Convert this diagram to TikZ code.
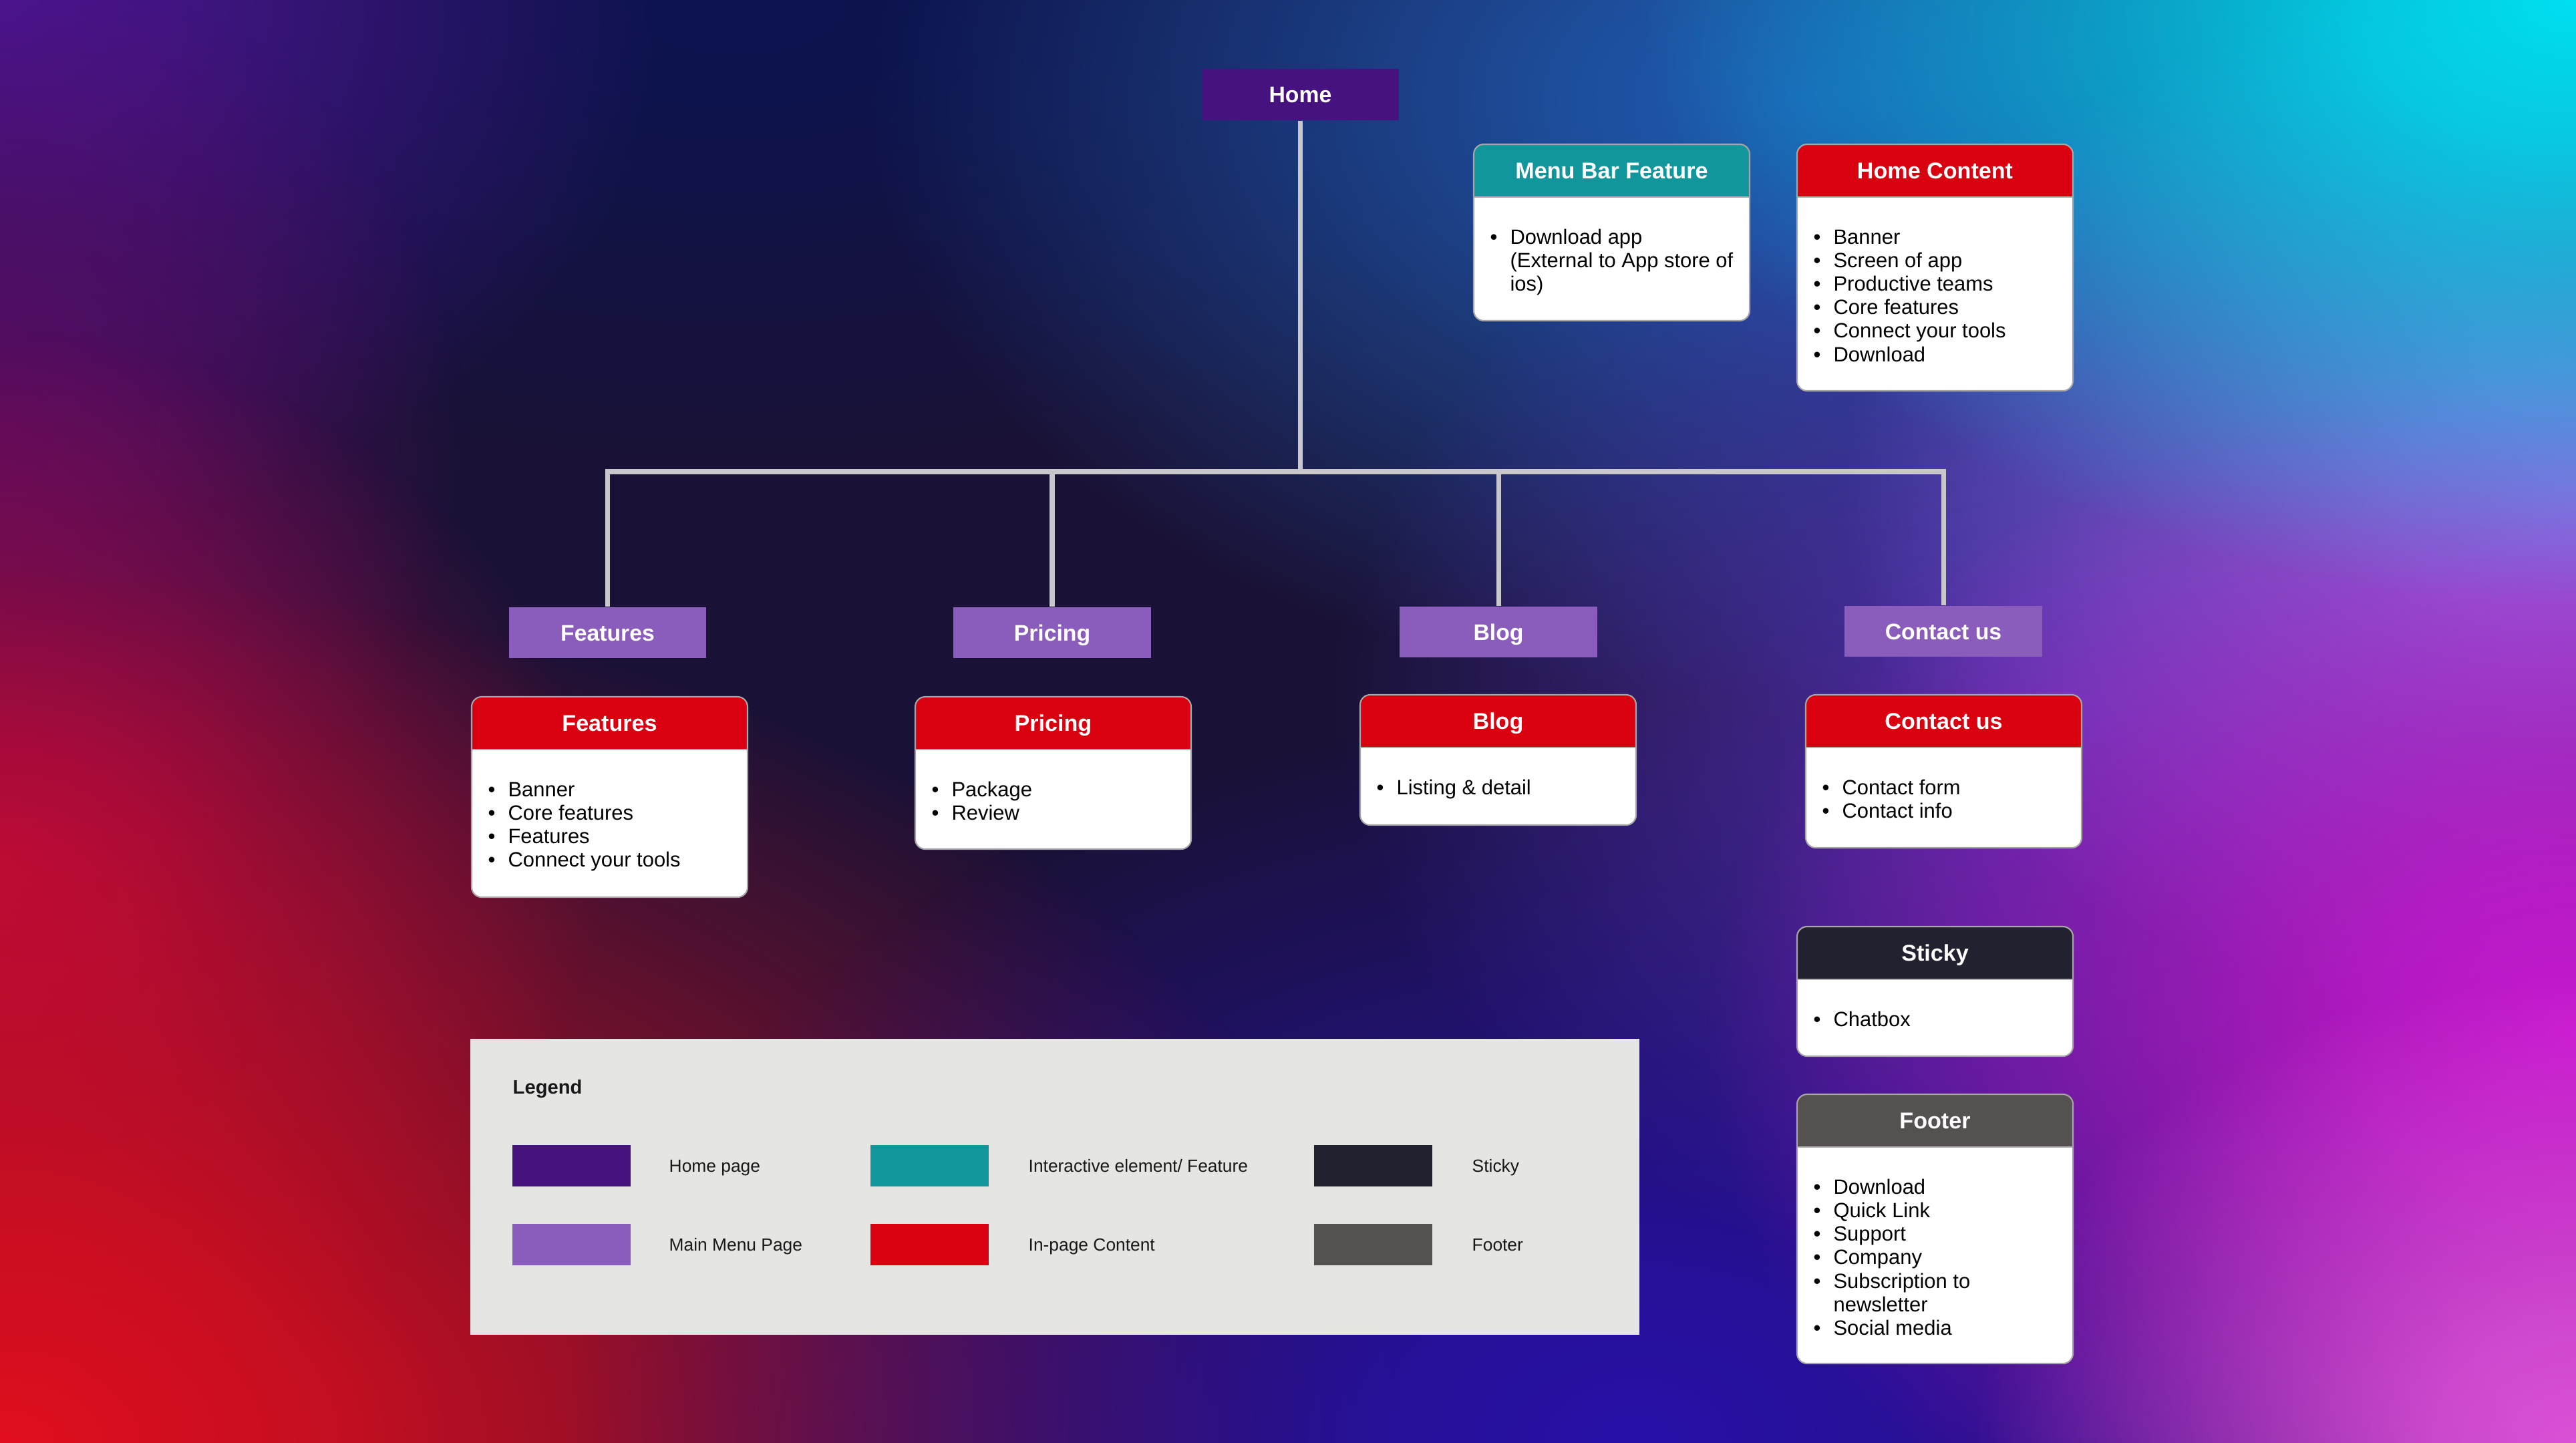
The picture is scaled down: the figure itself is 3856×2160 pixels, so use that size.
\documentclass[tikz,border=0pt]{standalone}
\usepackage{fontspec}
\setmainfont{Liberation Sans}
\usetikzlibrary{fadings,shadings}
\definecolor{homec}{HTML}{46127F}
\definecolor{menuc}{HTML}{8A5CBB}
\definecolor{tealc}{HTML}{11969C}
\definecolor{redc}{HTML}{D9000F}
\definecolor{stickyc}{HTML}{22212F}
\definecolor{footc}{HTML}{555150}
\definecolor{legbg}{HTML}{E5E5E3}
\definecolor{linec}{HTML}{C8C8CC}
\definecolor{bBase}{HTML}{1A1236}
\definecolor{bPurp}{HTML}{4A1590}
\definecolor{bPlum}{HTML}{5A0C62}
\definecolor{bNavy}{HTML}{0C1450}
\definecolor{bRed}{HTML}{E20E1E}
\definecolor{bCrim}{HTML}{A80A44}
\definecolor{bBlue}{HTML}{1F5AB0}
\definecolor{bCyan}{HTML}{00E0F2}
\definecolor{bLav}{HTML}{8A70E0}
\definecolor{bMag}{HTML}{C818D0}
\definecolor{bPink}{HTML}{E858E0}
\definecolor{bDeep}{HTML}{2810A8}
\definecolor{bViol}{HTML}{5A34C0}
\pgfdeclareradialshading{blobshade}{\pgfpointorigin}{color(0bp)=(white); color(6bp)=(white!85!black); color(25bp)=(black); color(50bp)=(black)}
\pgfdeclarefading{blobfade}{\pgfuseshading{blobshade}}
\newcommand\blob[6]{\fill[#1, path fading=blobfade, fill opacity=#6] (#2,#3) ellipse [x radius=#4cm, y radius=#5cm];}
\newcommand\bl{\makebox[8.5pt][l]{\textbullet}}
\newcommand\ind{\hspace*{8.5pt}}
\tikzset{
  conn/.style={draw=linec, line width=2pt},
  mainbox/.style={fill=menuc, text=white, font=\fontsize{9.6}{11}\selectfont\bfseries, minimum width=2.95cm, minimum height=0.76cm, inner sep=0pt, text height=7pt, text depth=0pt},
  homebox/.style={mainbox, fill=homec, minimum height=0.77cm},
  cardtitle/.style={text=white, font=\fontsize{9.7}{11}\selectfont\bfseries, inner sep=0pt, text height=7pt, text depth=0pt},
  cardlist/.style={anchor=north west, inner sep=0pt, font=\fontsize{8.8}{10}\selectfont, text=black},
  cardedge/.style={draw=black!35, line width=0.6pt},
  cardline/.style={draw=black!30, line width=0.6pt},
  swatch/.style={minimum width=1.77cm, minimum height=0.62cm, inner sep=0pt},
  leglabel/.style={anchor=west, inner sep=0pt, font=\fontsize{7.5}{9}\selectfont, text=black!90, text height=5.4pt, text depth=0pt},
}
\newcommand\sitecard[7]{%
  \fill[white, rounded corners=0.15cm] (#2,#3) rectangle (#2+413,#6);
  \fill[#4, rounded corners=0.15cm] (#2,#3) rectangle (#2+413,#3+100);
  \fill[white] (#2,#3+79) rectangle (#2+413,#3+110);
  \draw[cardline] (#2,#3+79) -- (#2+413,#3+79);
  \draw[cardedge, rounded corners=0.15cm] (#2,#3) rectangle (#2+413,#6);
  \node[cardtitle] (#1t) at (#2+206.5,#3+39.5) {#5};
  \node[cardlist] (#1l) at (#2+24,#3+124) {\begin{tabular}{@{}l@{}}#7\end{tabular}};
}
\begin{document}
\begin{tikzpicture}[x=0.01cm,y=-0.01cm]
\useasboundingbox (0,0) rectangle (3856,2160);
% background
\fill[bBase] (0,0) rectangle (3856,2160);
\blob{bNavy}{1100}{0}{14}{7}{1}
\blob{bPurp}{0}{0}{10}{8}{1}
\blob{bPlum}{0}{650}{7}{7}{0.9}
\blob{bCrim}{0}{1300}{9}{8}{1}
\blob{bRed}{0}{2160}{21}{13}{1}
\blob{bBlue}{2700}{150}{14}{9}{1}
\blob{bDeep}{2450}{2160}{16}{11}{1}
\blob{bViol}{3100}{1050}{11}{9}{0.8}
\blob{bLav}{3856}{750}{11}{8}{1}
\blob{bMag}{3856}{1550}{13}{10}{1}
\blob{bPink}{3856}{2160}{9}{7}{0.9}
\blob{bCyan}{3856}{0}{14}{9}{1}
% hierarchy
\node[homebox] (home) at (1946.5,141.5) {Home};
\node[mainbox] (mf) at (909.5,947) {Features};
\node[mainbox] (mp) at (1575,947) {Pricing};
\node[mainbox] (mb) at (2243,946) {Blog};
\node[mainbox] (mc) at (2909,945) {Contact us};
\coordinate (bus) at (1946.5,706);
\draw[conn] (home.south) -- (bus);
\draw[conn] (bus) -| (mf.north);
\draw[conn] (bus) -| (mp.north);
\draw[conn] (bus) -| (mb.north);
\draw[conn] (bus) -| (mc.north);
% cards
\sitecard{mbf}{2206}{216}{tealc}{Menu Bar Feature}{480}{\bl Download app\\ \ind (External to App store of\\ \ind ios)}
\sitecard{hc}{2690}{216}{redc}{Home Content}{585}{\bl Banner\\ \bl Screen of app\\ \bl Productive teams\\ \bl Core features\\ \bl Connect your tools\\ \bl Download}
\sitecard{fc}{706}{1043}{redc}{Features}{1343}{\bl Banner\\ \bl Core features\\ \bl Features\\ \bl Connect your tools}
\sitecard{pc}{1370}{1043}{redc}{Pricing}{1271}{\bl Package\\ \bl Review}
\sitecard{bc}{2036}{1040}{redc}{Blog}{1235}{\bl Listing \& detail}
\sitecard{cc}{2703}{1040}{redc}{Contact us}{1269}{\bl Contact form\\ \bl Contact info}
\sitecard{sc}{2690}{1387}{stickyc}{Sticky}{1581}{\bl Chatbox}
\sitecard{foc}{2690}{1638}{footc}{Footer}{2041}{\bl Download\\ \bl Quick Link\\ \bl Support\\ \bl Company\\ \bl Subscription to\\ \ind newsletter\\ \bl Social media}
% legend
\node[fill=legbg, minimum width=17.49cm, minimum height=4.43cm, anchor=north west, inner sep=0pt] (legend) at (703,1554) {};
\node[anchor=west, inner sep=0pt, font=\fontsize{8.3}{10}\selectfont\bfseries, text=black!90] (legt) at (767,1630) {Legend};
\node[swatch, fill=homec] (sw1) at (855.5,1745) {};
\node[swatch, fill=menuc] (sw2) at (855.5,1863) {};
\node[swatch, fill=tealc] (sw3) at (1391.5,1745) {};
\node[swatch, fill=redc] (sw4) at (1391.5,1863) {};
\node[swatch, fill=stickyc] (sw5) at (2055.5,1745) {};
\node[swatch, fill=footc] (sw6) at (2055.5,1863) {};
\node[leglabel] (lb1) at (1001,1745) {Home page};
\node[leglabel] (lb2) at (1001,1863) {Main Menu Page};
\node[leglabel] (lb3) at (1539,1745) {Interactive element/ Feature};
\node[leglabel] (lb4) at (1539,1863) {In-page Content};
\node[leglabel] (lb5) at (2203,1745) {Sticky};
\node[leglabel] (lb6) at (2203,1863) {Footer};
\end{tikzpicture}
\end{document}
